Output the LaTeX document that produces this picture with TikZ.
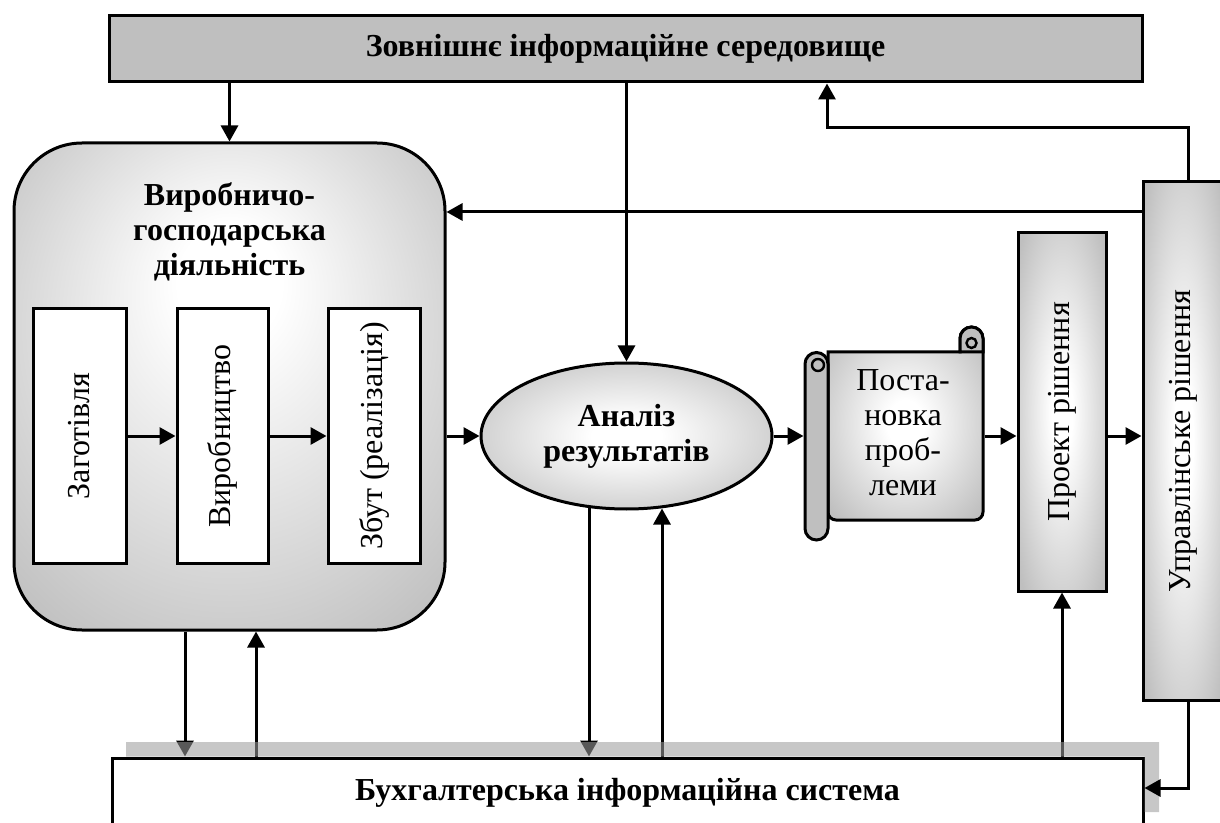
\documentclass[tikz,border=0pt]{standalone}
\usepackage{fontspec}
\setmainfont{Liberation Serif}
\usetikzlibrary{arrows.meta,shapes.geometric,calc}
\pgfdeclareradialshading{glow}{\pgfpoint{0bp}{0bp}}{color(0bp)=(white); color(6bp)=(white); color(33bp)=(gray!50); color(50bp)=(gray!50)}
\pgfdeclareradialshading{glowup}{\pgfpoint{0bp}{12bp}}{color(0bp)=(white); color(6bp)=(white); color(36bp)=(gray!50); color(50bp)=(gray!50)}
\begin{document}
\begin{tikzpicture}[x=0.5pt,y=-0.5pt,
  arr/.style={-{Triangle[length=8pt,width=8.5pt]},line width=1.5pt},
  bx/.style={draw,line width=1.5pt,inner sep=0pt},
  lbl/.style={font=\fontsize{16}{17.5}\selectfont,align=center,inner sep=0pt},
  bl/.style={font=\fontsize{16}{17.5}\selectfont\bfseries,align=center,inner sep=0pt},
  rollline/.style={line width=1.5pt,fill=gray!50}]
\useasboundingbox (0,0) rectangle (1220,823);
\clip (0,0) rectangle (1220,823);

% nodes
\node[bx,fill=gray!50,minimum width=516.5pt,minimum height=33pt,bl] (ext) at (625.5,49) {Зовнішнє інформаційне середовище};
\node[bx,rounded corners=34pt,shading=glowup,minimum width=215.5pt,minimum height=243.5pt] (prod) at (229.5,386.5) {};
\node[bl] (prodt) at (229.5,232) {Виробничо-\\господарська\\діяльність};

\node[bx,fill=white,minimum width=46.5pt,minimum height=127pt] (b1) at (79.5,436) {};
\node[lbl,rotate=90] (b1t) at (b1) {Заготівля};
\node[bx,fill=white,minimum width=45.5pt,minimum height=127pt] (b2) at (222.5,436) {};
\node[lbl,rotate=90] (b2t) at (b2) {Виробництво};
\node[bx,fill=white,minimum width=46pt,minimum height=127pt] (b3) at (374,436) {};
\node[lbl,rotate=90] (b3t) at (b3) {Збут (реалізація)};

\node[bx,ellipse,shading=glow,minimum width=145.5pt,minimum height=73pt,bl] (anal) at (626.5,436) {Аналіз\\результатів};

% scroll
\node[inner sep=0pt,outer sep=0pt,minimum width=90.5pt,minimum height=107pt] (scr) at (894,433.5) {};
\draw[line width=1.5pt,shading=glow] (828,352) -- (960,352) -- (960,338.5) arc[start angle=180,end angle=360,radius=11.5] [rounded corners=4pt] -- (983,520) -- (828,520) [sharp corners] -- cycle;
\draw[rollline] (960,352) -- (960,338.5) arc[start angle=180,end angle=360,radius=11.5] -- (983,352) -- cycle;
\draw[line width=1.2pt,fill=gray!50] (971.5,343) circle[radius=5];
\draw[rollline] (805,364) arc[start angle=180,end angle=360,radius=11.5] -- (828,528.5) arc[start angle=0,end angle=180,radius=11.5] -- cycle;
\draw[line width=1.2pt,fill=gray!50] (818,365) circle[radius=6];
\node[lbl] (scrt) at (903,433) {Поста-\\новка\\проб-\\леми};

\node[bx,shading=glow,minimum width=44pt,minimum height=179pt] (proj) at (1062,412) {};
\node[lbl,rotate=90] (projt) at (proj) {Проект рішення};
\node[bx,shading=glow,minimum width=40.5pt,minimum height=259pt] (mgmt) at (1183.5,441) {};
\node[lbl,rotate=90] (mgmtt) at (1183,441) {Управлінське рішення};

\node[bx,fill=white,minimum width=515.5pt,minimum height=35pt,bl] (acc) at (627.5,793) {Бухгалтерська інформаційна система};

% helper coordinates
\coordinate (xa) at (185,0);
\coordinate (xb) at (256,0);
\coordinate (xc) at (589,0);
\coordinate (xd) at (662,0);
\coordinate (y212) at (0,212);
\coordinate (tr) at (1188,128);
\coordinate (tl) at (827,128);
\coordinate (br) at (1188,788);

% connectors
\draw[arr] (ext.south -| prod.north) -- (prod.north);
\draw[arr] (ext.south -| anal.north) -- (anal.north);
\draw[arr] (mgmt.north -| tr) -- (tr) -- (tl) -- (tl |- ext.south);
\draw[arr] (mgmt.west |- y212) -- (prod.east |- y212);
\draw[arr] (b1.east) -- (b2.west);
\draw[arr] (b2.east) -- (b3.west);
\draw[arr] (prod.east |- anal.west) -- (anal.west);
\draw[arr] (anal.east) -- (anal.east -| scr.west);
\draw[arr] (anal.east -| scr.east) -- (anal.east -| proj.west);
\draw[arr] (anal.east -| proj.east) -- (anal.east -| mgmt.west);
\draw[arr] (prod.south -| xa) -- (acc.north -| xa);
\draw[arr] (acc.north -| xb) -- (prod.south -| xb);
\draw[arr] ($(anal.south -| xc)+(0,-4)$) -- (acc.north -| xc);
\draw[arr] (acc.north -| xd) -- ($(anal.south -| xd)+(0,-2)$);
\draw[arr] (acc.north -| proj.south) -- (proj.south);

% shadow of the bottom box
\fill[black!39,opacity=0.57] (126,742) -- (1159,742) -- (1159,812) -- (1144.5,812) -- (1144.5,756.5) -- (126,756.5) -- cycle;

\draw[arr] (mgmt.south -| br) -- (br) -- (acc.east |- br);
\end{tikzpicture}
\end{document}
